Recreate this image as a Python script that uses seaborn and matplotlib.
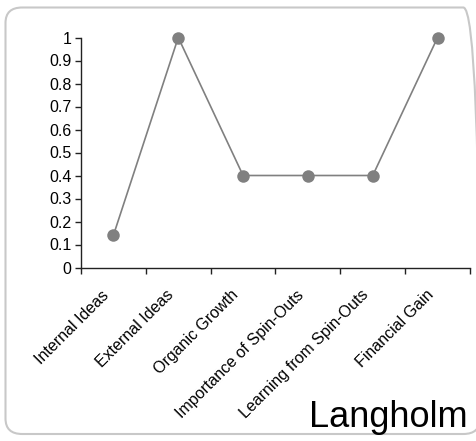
import matplotlib
matplotlib.use("Agg")
import matplotlib.pyplot as plt
import matplotlib.transforms as mtransforms
from matplotlib.patches import FancyBboxPatch
import numpy as np
import pandas as pd
import seaborn as sns

categories = ["Internal Ideas", "External Ideas", "Organic Growth",
              "Importance of Spin-Outs", "Learning from Spin-Outs", "Financial Gain"]
values = [0.14, 1.0, 0.4, 0.4, 0.4, 1.0]
y_ticks = [0, 0.1, 0.2, 0.3, 0.4, 0.5, 0.6, 0.7, 0.8, 0.9, 1]
y_tick_labels = ["0", "0.1", "0.2", "0.3", "0.4", "0.5", "0.6", "0.7", "0.8", "0.9", "1"]
title = "Langholm"

sns.set_style("white")
plt.rcParams["font.family"] = ["Liberation Sans", "DejaVu Sans"]

W, H = 477, 441
fig = plt.figure(figsize=(W / 100, H / 100), dpi=100, facecolor="white")

# rounded outer border
border = FancyBboxPatch((5.5 / W, 1 - 434 / H), (480 - 5.5) / W, (434 - 7.5) / H,
                        boxstyle="round,pad=0,rounding_size=0.035",
                        transform=fig.transFigure, facecolor="none",
                        edgecolor="#c8c8c8", linewidth=1.5, zorder=0)
fig.patches.append(border)

ax = fig.add_axes([81 / W, 1 - 267.5 / H, (470 - 81) / W, 230 / H])
ax.patch.set_alpha(0)

pos = np.arange(len(categories)) + 0.5
df = pd.DataFrame({"pos": pos, "value": values})
sns.lineplot(data=df, x="pos", y="value", ax=ax, color="#808080", linewidth=1.2,
             marker="o", markersize=9, markeredgewidth=0, markerfacecolor="#808080",
             clip_on=False)

ax.set_xlim(0, len(categories))
ax.set_ylim(0, 1)
ax.set_xlabel("")
ax.set_ylabel("")

# tick marks on the category boundaries
ax.set_xticks(np.arange(len(categories) + 1))
ax.set_xticklabels([])
ax.tick_params(axis="x", which="major", bottom=True, length=4, width=1,
               color="#222222", direction="out")

# slanted category names below each category centre
label_tf = ax.get_xaxis_transform() + mtransforms.ScaledTranslation(
    -12 / 100, -20 / 100, fig.dpi_scale_trans)
for x, name in zip(pos, categories):
    ax.text(x, 0, name, transform=label_tf, rotation=45, ha="right", va="top",
            rotation_mode="anchor", fontsize=11.5, color="black", clip_on=False)

ax.set_yticks(y_ticks)
ax.set_yticklabels(y_tick_labels, fontsize=11.5, color="black")
ax.tick_params(axis="y", left=True, length=4, width=1, color="#222222",
               direction="out", pad=3)

for side in ["top", "right"]:
    ax.spines[side].set_visible(False)
for side in ["left", "bottom"]:
    ax.spines[side].set_color("#222222")
    ax.spines[side].set_linewidth(1)

fig.text(468 / W, 1 - 427 / H, title, ha="right", va="baseline",
         fontsize=26, color="black")

fig.savefig("out.png", dpi=100, facecolor="white")
